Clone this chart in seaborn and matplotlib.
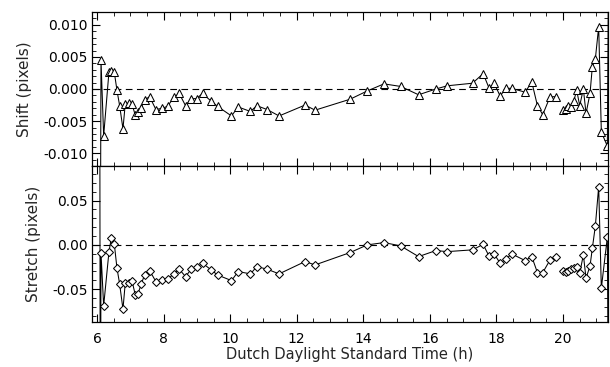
import numpy as np
import pandas as pd
import matplotlib
matplotlib.use("Agg")
import matplotlib.pyplot as plt
from matplotlib.ticker import MultipleLocator, FormatStrFormatter
import seaborn as sns

# Observation times (h); the first two and the last one lie off-scale
hours = [6.08, 6.10,
         6.12, 6.20, 6.36, 6.43, 6.52, 6.60, 6.68, 6.78, 6.85, 6.95, 7.05, 7.15,
         7.23, 7.33, 7.43, 7.58, 7.77, 7.96, 8.12, 8.31, 8.47, 8.66, 8.83, 8.99,
         9.17, 9.43, 9.62, 10.04, 10.24, 10.61, 10.80, 11.11, 11.47, 12.25, 12.55,
         13.60, 14.12, 14.62, 15.12, 15.66, 16.18, 16.52, 17.28,
         17.60, 17.78, 17.93, 18.11, 18.28, 18.46, 18.86, 19.06, 19.23, 19.39,
         19.61, 19.78,
         20.00, 20.08, 20.15, 20.23, 20.32, 20.41, 20.50, 20.61, 20.69, 20.81,
         20.88, 20.97, 21.07, 21.15, 21.33, 21.38]

# Run index: the evening run is drawn as a separate line
run = [0] * 57 + [1] * 16

shift = [np.nan, -0.030,
         0.0045, -0.0073, 0.0027, 0.0028, 0.0026, -0.0002, -0.0026, -0.0062,
         -0.0023, -0.0022, -0.0023, -0.0041, -0.0036, -0.0029, -0.0017, -0.0012,
         -0.0032, -0.0030, -0.0027, -0.0013, -0.0007, -0.0026, -0.0015, -0.0015,
         -0.0007, -0.0019, -0.0027, -0.0042, -0.0028, -0.0035, -0.0026, -0.0032,
         -0.0042, -0.0025, -0.0033, -0.0016, -0.0003, 0.0008, 0.0004, -0.0009,
         0.0000, 0.0005, 0.0009,
         0.0024, 0.0001, 0.0009, -0.0011, 0.0001, 0.0001, -0.0005, 0.0011,
         -0.0026, -0.0040, -0.0012, -0.0012,
         -0.0033, -0.0031, -0.0026, -0.0028, -0.0019, -0.0002, -0.0026, 0.0000,
         -0.0038, -0.0007, 0.0035, 0.0047, 0.0097, -0.0067, -0.0089, 0.030]

stretch = [0.30, -0.30,
           -0.0087, -0.0688, -0.0076, 0.0076, 0.0011, -0.0263, -0.0440, -0.0726,
           -0.0426, -0.0432, -0.0403, -0.0564, -0.0553, -0.0440, -0.0339, -0.0290,
           -0.0414, -0.0395, -0.0387, -0.0327, -0.0274, -0.0358, -0.0274, -0.0254,
           -0.0207, -0.0282, -0.0339, -0.0403, -0.0301, -0.0327, -0.0245, -0.0274,
           -0.0327, -0.0188, -0.0226, -0.0087, 0.0000, 0.0026, -0.0011, -0.0132,
           -0.0064, -0.0076, -0.0056,
           0.0006, -0.0130, -0.0102, -0.0207, -0.0161, -0.0102, -0.0177, -0.0132,
           -0.0313, -0.0313, -0.0169, -0.0132,
           -0.0290, -0.0301, -0.0290, -0.0274, -0.0263, -0.0252, -0.0319, -0.0113,
           -0.0376, -0.0237, -0.0037, 0.0214, 0.0658, -0.0489, 0.0087, -0.30]

x_ticks = [6, 8, 10, 12, 14, 16, 18, 20]
shift_ticks = [-0.010, -0.005, 0.000, 0.005, 0.010]
stretch_ticks = [-0.05, 0.00, 0.05]

sns.set_theme(style="ticks")
plt.rcParams["font.family"] = ["DejaVu Sans"]
plt.rcParams["font.size"] = 10

df = pd.DataFrame({"hour": hours, "run": run,
                   "shift": shift, "stretch": stretch})

fig = plt.figure(figsize=(6.10, 3.67), dpi=100)
W, H = 610.0, 367.0
ax1 = fig.add_axes([92 / W, 1 - 166 / H, (608 - 92) / W, (166 - 12) / H])
ax2 = fig.add_axes([92 / W, 1 - 322 / H, (608 - 92) / W, (322 - 166) / H])

line_kw = dict(color="black", lw=0.75, estimator=None, sort=False,
               markerfacecolor="white", markeredgecolor="black",
               markeredgewidth=0.75, legend=False)

d1 = df.dropna(subset=["shift"])
sns.lineplot(data=d1, x="hour", y="shift", units="run", marker="^",
             markersize=6, ax=ax1, **line_kw)
sns.lineplot(data=df, x="hour", y="stretch", units="run", marker="D",
             markersize=4.4, ax=ax2, **line_kw)

for ax in (ax1, ax2):
    ax.axhline(0, color="black", lw=0.8, ls=(0, (6, 4)), zorder=1)
    ax.set_xlim(5.85, 21.35)
    ax.xaxis.set_major_locator(MultipleLocator(2))
    ax.xaxis.set_minor_locator(MultipleLocator(0.5))
    ax.tick_params(which="both", direction="in", top=True, right=True,
                   colors="black", labelsize=10)
    ax.tick_params(which="major", length=6, width=0.8)
    ax.tick_params(which="minor", length=3, width=0.6)
    for s in ax.spines.values():
        s.set_color("black")
        s.set_linewidth(0.9)

ax1.set_ylim(-0.012, 0.012)
ax1.set_yticks(shift_ticks)
ax1.yaxis.set_minor_locator(MultipleLocator(0.001))
ax1.yaxis.set_major_formatter(FormatStrFormatter("%.3f"))
ax1.tick_params(axis="x", labelbottom=False)
ax1.tick_params(axis="y", pad=3)
ax1.set_xlabel("")
ax1.set_ylabel("Shift (pixels)", fontsize=11, labelpad=8)

ax2.set_ylim(-0.087, 0.089)
ax2.set_yticks(stretch_ticks)
ax2.yaxis.set_minor_locator(MultipleLocator(0.01))
ax2.yaxis.set_major_formatter(FormatStrFormatter("%.2f"))
ax2.set_xticks(x_ticks)
ax2.tick_params(axis="x", pad=7)
ax2.tick_params(axis="y", pad=3)
ax2.set_xlabel("Dutch Daylight Standard Time (h)", fontsize=10.5, labelpad=1)
ax2.set_ylabel("Stretch (pixels)", fontsize=11, labelpad=8)

fig.savefig("out.png", dpi=100, facecolor="white")
